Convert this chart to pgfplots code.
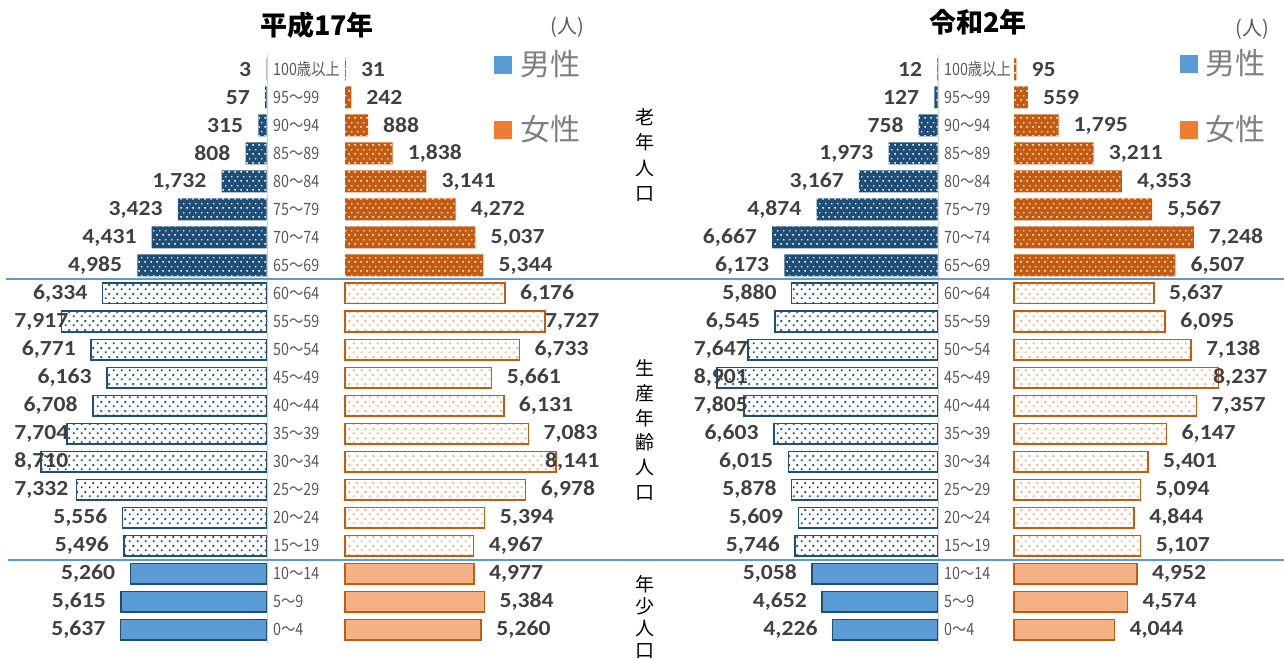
\documentclass[border=0pt]{standalone}
\usepackage{pgfplots}
\pgfplotsset{compat=1.18}
\usepackage{pgfplotstable}
\usetikzlibrary{patterns,patterns.meta}
\usepackage{fontspec}
\setmainfont{Noto Sans CJK JP}
\newfontfamily\valfont{Carlito}[FakeStretch=1.1]
\newfontfamily\agefont{Noto Sans CJK JP}[FakeStretch=0.84]
\newcommand\vf{\valfont\bfseries\fontsize{21.5}{21.5}\selectfont}

\definecolor{navy}{HTML}{1F4E79}
\definecolor{dorange}{HTML}{C55A11}
\definecolor{lblue}{HTML}{5B9BD5}
\definecolor{lorange}{HTML}{F4B183}
\definecolor{legorange}{HTML}{ED7D31}
\definecolor{labgray}{HTML}{404040}
\definecolor{agegray}{HTML}{595959}
\definecolor{leggray}{HTML}{7F7F7F}
\definecolor{sepblue}{HTML}{5B9BD5}
\definecolor{midgray}{HTML}{D0D0D0}

\pgfdeclarepattern{
  name=dotsA,
  type=uncolored,
  bottom left={\pgfpoint{0pt}{0pt}},
  top right={\pgfpoint{6pt}{9pt}},
  tile size={\pgfpoint{6pt}{9pt}},
  code={
    \pgfpathrectangle{\pgfpoint{0.5pt}{0.5pt}}{\pgfpoint{1.6pt}{1.6pt}}
    \pgfpathrectangle{\pgfpoint{3.5pt}{5pt}}{\pgfpoint{1.6pt}{1.6pt}}
    \pgfusepath{fill}
  }
}
\pgfdeclarepattern{
  name=dotsB,
  type=uncolored,
  bottom left={\pgfpoint{0pt}{0pt}},
  top right={\pgfpoint{8pt}{9pt}},
  tile size={\pgfpoint{8pt}{9pt}},
  code={
    \pgfpathrectangle{\pgfpoint{1pt}{1pt}}{\pgfpoint{2pt}{2pt}}
    \pgfpathrectangle{\pgfpoint{5pt}{5.5pt}}{\pgfpoint{2pt}{2pt}}
    \pgfusepath{fill}
  }
}

% k: 0 = 0-4 ... 20 = 100+
\pgfplotstableread{
k m f
0 5637 5260
1 5615 5384
2 5260 4977
3 5496 4967
4 5556 5394
5 7332 6978
6 8710 8141
7 7704 7083
8 6708 6131
9 6163 5661
10 6771 6733
11 7917 7727
12 6334 6176
13 4985 5344
14 4431 5037
15 3423 4272
16 1732 3141
17 808 1838
18 315 888
19 57 242
20 3 31
}\tabH

\pgfplotstableread{
k m f
0 4226 4044
1 4652 4574
2 5058 4952
3 5746 5107
4 5609 4844
5 5878 5094
6 6015 5401
7 6603 6147
8 7805 7357
9 8901 8237
10 7647 7138
11 6545 6095
12 5880 5637
13 6173 6507
14 6667 7248
15 4874 5567
16 3167 4353
17 1973 3211
18 758 1795
19 127 559
20 12 95
}\tabR

\pgfplotsset{
  pyr/.style={scale only axis, height=588pt, ymin=-0.5, ymax=20.5,
    xmin=0, xmax=10000, hide axis, clip=false},
  young/.style={restrict y to domain=-0.1:2.1},
  work/.style={restrict y to domain=2.9:12.1},
  old/.style={restrict y to domain=12.9:20.1},
  barO/.style={xbar, bar width=22pt, bar shift=0pt},
  barL/.style={xbar, bar width=20.5pt, bar shift=0pt, line width=1.5pt},
  mOld/.style={barO, fill=navy, draw=none, postaction={pattern=dotsA, pattern color=white}},
  fOld/.style={barO, fill=dorange, draw=none, postaction={pattern=dotsA, pattern color=white}},
  mWork/.style={barL, fill=white, draw=navy, postaction={pattern=dotsB, pattern color=navy}},
  fWork/.style={barL, fill=white, draw=dorange, postaction={pattern=dotsB, pattern color=lorange}},
  mYoung/.style={barL, fill=lblue, draw=navy},
  fYoung/.style={barL, fill=lorange, draw=dorange},
  vals/.style={draw=none, mark=none,
    nodes near coords={\pgfmathprintnumber[fixed,precision=0,1000 sep={,},assume math mode=true]{\pgfplotspointmeta}},
    every node near coord/.append style={font=\vf, text=labgray, inner sep=0pt, anchor=#1}},
}

\begin{document}
\begin{tikzpicture}
\useasboundingbox (0pt,0pt) rectangle (1284pt,659pt);

% ---------- left pyramid (H17) ----------
\begin{axis}[pyr, width=259pt, x dir=reverse, at={(266.5pt,15.5pt)}, anchor=south east]
\addplot[mOld, old] table[x=m, y=k]{\tabH};
\addplot[mWork, work] table[x=m, y=k]{\tabH};
\addplot[mYoung, young] table[x=m, y=k]{\tabH};
\addplot[vals=east, point meta=\thisrow{m}] table[x expr={min(\thisrow{m}+579,7640)}, y=k]{\tabH};
\end{axis}
\begin{axis}[pyr, width=259pt, at={(345pt,15.5pt)}, anchor=south west]
\addplot[fOld, old] table[x=f, y=k]{\tabH};
\addplot[fWork, work] table[x=f, y=k]{\tabH};
\addplot[fYoung, young] table[x=f, y=k]{\tabH};
\addplot[vals=west, point meta=\thisrow{f}] table[x expr={min(\thisrow{f}+579,7722)}, y=k]{\tabH};
\end{axis}

% ---------- right pyramid (R2) ----------
\begin{axis}[pyr, width=248pt, x dir=reverse, at={(937.5pt,15.5pt)}, anchor=south east]
\addplot[mOld, old] table[x=m, y=k]{\tabR};
\addplot[mWork, work] table[x=m, y=k]{\tabR};
\addplot[mYoung, young] table[x=m, y=k]{\tabR};
\addplot[vals=east, point meta=\thisrow{m}] table[x expr={min(\thisrow{m}+605,7641)}, y=k]{\tabR};
\end{axis}
\begin{axis}[pyr, width=248pt, at={(1014pt,15.5pt)}, anchor=south west]
\addplot[fOld, old] table[x=f, y=k]{\tabR};
\addplot[fWork, work] table[x=f, y=k]{\tabR};
\addplot[fYoung, young] table[x=f, y=k]{\tabR};
\addplot[vals=west, point meta=\thisrow{f}] table[x expr={min(\thisrow{f}+605,8024)}, y=k]{\tabR};
\end{axis}

% center lines
\draw[midgray, line width=1.6pt] (267.5pt,15.5pt) -- (267.5pt,603.5pt);
\draw[midgray, line width=1.6pt] (938.5pt,15.5pt) -- (938.5pt,603.5pt);

% age labels
\foreach \lab [count=\k from 0] in {0～4,5～9,10～14,15～19,20～24,25～29,30～34,35～39,40～44,45～49,50～54,55～59,60～64,65～69,70～74,75～79,80～84,85～89,90～94,95～99,100歳以上} {
  \node[anchor=west, inner sep=0pt, font=\agefont\fontsize{17}{17}\selectfont, text=agegray] at (273pt, {(29.5+28*\k)*1pt}) {\lab};
  \node[anchor=west, inner sep=0pt, font=\agefont\fontsize{17}{17}\selectfont, text=agegray] at (944pt, {(29.5+28*\k)*1pt}) {\lab};
}

% separators
\draw[sepblue, line width=2pt] (6pt,379.5pt) -- (1284pt,379.5pt);
\draw[sepblue, line width=2pt] (8pt,99.5pt) -- (1284pt,99.5pt);

% titles
\node[font=\bfseries\fontsize{27}{27}\selectfont] at (317pt,634pt) {平成17年};
\node[font=\bfseries\fontsize{27}{27}\selectfont] at (978pt,637pt) {令和2年};
\node[font=\fontsize{20}{20}\selectfont, text=agegray] at (567pt,632pt) {(人)};
\node[font=\fontsize{20}{20}\selectfont, text=agegray] at (1252pt,630pt) {(人)};

% legends
\fill[lblue] (494pt,585pt) rectangle (512pt,603pt);
\node[anchor=west, inner sep=0pt, font=\fontsize{30}{30}\selectfont, text=leggray] at (520pt,595pt) {男性};
\fill[legorange] (494pt,520pt) rectangle (512pt,538pt);
\node[anchor=west, inner sep=0pt, font=\fontsize{30}{30}\selectfont, text=leggray] at (520pt,530pt) {女性};
\fill[lblue] (1180pt,586pt) rectangle (1198pt,604pt);
\node[anchor=west, inner sep=0pt, font=\fontsize{30}{30}\selectfont, text=leggray] at (1205pt,596pt) {男性};
\fill[legorange] (1180pt,520pt) rectangle (1198pt,538pt);
\node[anchor=west, inner sep=0pt, font=\fontsize{30}{30}\selectfont, text=leggray] at (1205pt,530pt) {女性};

% group labels
\node[font=\fontsize{19}{25.3}\selectfont, align=center, inner sep=0pt] at (645pt,504pt) {老\\年\\人\\口};
\node[font=\fontsize{19}{24.8}\selectfont, align=center, inner sep=0pt] at (645pt,229pt) {生\\産\\年\\齢\\人\\口};
\node[font=\fontsize{19}{21.7}\selectfont, align=center, inner sep=0pt] at (645pt,42pt) {年\\少\\人\\口};
\end{tikzpicture}
\end{document}
